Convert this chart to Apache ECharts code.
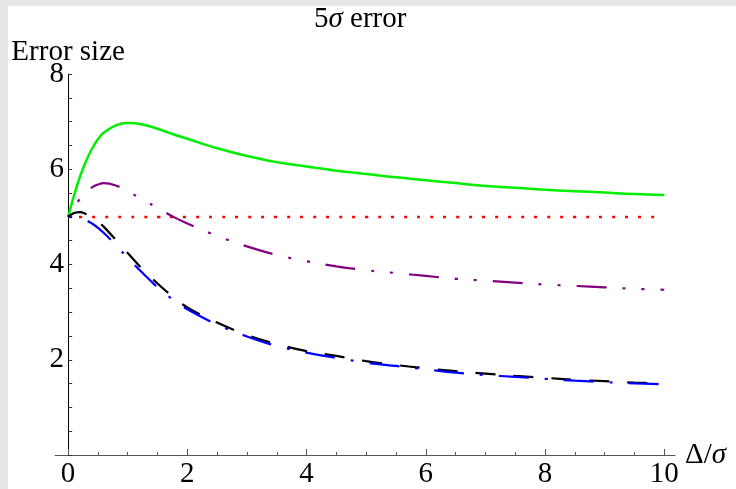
<!DOCTYPE html>
<html>
<head>
<meta charset="utf-8">
<script src="https://cdn.jsdelivr.net/npm/echarts@6/dist/echarts.min.js"></script>
<style>
  html, body { margin: 0; padding: 0; background: #e6e6e6; }
  #chart { position: absolute; left: 8px; top: 6px; width: 728px; height: 483px; background: #fff; }
</style>
</head>
<body>
<div id="chart"></div>
<script>
// sample positions along Δ/σ
const xs = [0, 0.1, 0.2, 0.3, 0.4, 0.5, 0.6, 0.8, 1, 1.25, 1.5, 1.75, 2, 2.5, 3, 3.5, 4, 4.5, 5, 5.5, 6, 6.5, 7, 7.5, 8, 8.5, 9, 9.5, 10]

const greenErr = [5, 5.45, 5.85, 6.17, 6.43, 6.63, 6.77, 6.92, 6.97, 6.94, 6.85, 6.74, 6.64, 6.44, 6.28, 6.15, 6.06, 5.97, 5.9, 5.83, 5.77, 5.71, 5.65, 5.61, 5.57, 5.54, 5.51, 5.48, 5.46]
const redErr = [5, 5, 5, 5, 5, 5, 5, 5, 5, 5, 5, 5, 5, 5, 5, 5, 5, 5, 5, 5, 5, 5, 5, 5, 5, 5, 5, 5, 5]
const purpleErr = [5, 5.2, 5.38, 5.52, 5.62, 5.68, 5.71, 5.66, 5.54, 5.36, 5.19, 5.01, 4.86, 4.6, 4.38, 4.2, 4.07, 3.96, 3.88, 3.82, 3.76, 3.7, 3.66, 3.62, 3.58, 3.55, 3.52, 3.49, 3.47]
const blackErr = [5, 5.08, 5.1, 5.06, 5.0, 4.91, 4.79, 4.52, 4.24, 3.9, 3.6, 3.33, 3.1, 2.78, 2.52, 2.33, 2.18, 2.08, 1.97, 1.89, 1.82, 1.76, 1.71, 1.66, 1.62, 1.58, 1.55, 1.52, 1.5]
const blueErr = [5, 4.99, 4.97, 4.93, 4.86, 4.77, 4.66, 4.41, 4.14, 3.82, 3.52, 3.27, 3.06, 2.74, 2.49, 2.29, 2.15, 2.04, 1.94, 1.87, 1.8, 1.73, 1.68, 1.64, 1.6, 1.56, 1.53, 1.505, 1.485]

// tick labels
const xMajor = [0, 2, 4, 6, 8, 10]
const xMinor = [0.5, 1, 1.5, 2.5, 3, 3.5, 4.5, 5, 5.5, 6.5, 7, 7.5, 8.5, 9, 9.5]
const yLabels = [2, 4, 6, 8]

const serif = 'Liberation Serif'
const pairs = ys => xs.map((x, i) => [x, ys[i]])

const line = (name, ys, color, width, dash, offset) => ({
  name: name,
  type: 'line',
  data: pairs(ys),
  showSymbol: false,
  smooth: 0.4,
  silent: true,
  lineStyle: { color: color, width: width, type: dash || 'solid', dashOffset: offset || 0, cap: 'butt' }
})

const richText = {
  n: { fontFamily: serif, fontSize: 29, fontWeight: 'normal', color: '#000' },
  i: { fontFamily: serif, fontSize: 29, fontWeight: 'normal', fontStyle: 'italic', color: '#000' }
}

const chart = echarts.init(document.getElementById('chart'))

chart.setOption({
  animation: false,
  title: {
    text: '{n|5}{i|σ}{n| error}',
    left: 306,
    top: -1,
    padding: 0,
    textStyle: { fontWeight: 'normal', rich: richText }
  },
  grid: { left: 47, right: 61, top: 68, bottom: 31 },
  xAxis: [
    {
      type: 'value',
      min: -0.22,
      max: 10.18,
      name: '{n|Δ/}{i|σ}',
      nameLocation: 'end',
      nameGap: 10,
      nameTextStyle: { rich: richText },
      splitLine: { show: false },
      axisLine: { lineStyle: { color: '#555', width: 1 } },
      axisTick: { inside: true, length: 6, customValues: xMajor, lineStyle: { color: '#555' } },
      axisLabel: { customValues: xMajor, fontFamily: serif, fontSize: 29, color: '#000', margin: 5 }
    },
    {
      type: 'value',
      position: 'bottom',
      min: -0.22,
      max: 10.18,
      splitLine: { show: false },
      axisLine: { show: false },
      axisTick: { inside: true, length: 3, customValues: xMinor, lineStyle: { color: '#555' } },
      axisLabel: { show: false }
    }
  ],
  yAxis: {
    type: 'value',
    min: 0,
    max: 8,
    interval: 0.5,
    name: 'Error size',
    nameLocation: 'end',
    nameGap: 7,
    nameMoveOverlap: false,
    nameTextStyle: { fontFamily: serif, fontSize: 29, color: '#000' },
    splitLine: { show: false },
    axisLine: { onZero: true, lineStyle: { color: '#000', width: 1 } },
    axisTick: { inside: true, length: 4, lineStyle: { color: '#333' } },
    axisLabel: { customValues: yLabels, fontFamily: serif, fontSize: 29, color: '#000', margin: -9 }
  },
  series: [
    line('green', greenErr, '#00ee00', 2.5),
    line('red', redErr, '#ff0000', 2.5, [3, 10], 2),
    line('purple', purpleErr, '#800080', 2.2, [30, 16, 3, 16, 3, 16], 47),
    line('black', blackErr, '#000000', 2.2, [20, 18]),
    line('blue', blueErr, '#0000ff', 2.2, [30, 16, 3, 16], 45)
  ]
})
</script>
</body>
</html>
